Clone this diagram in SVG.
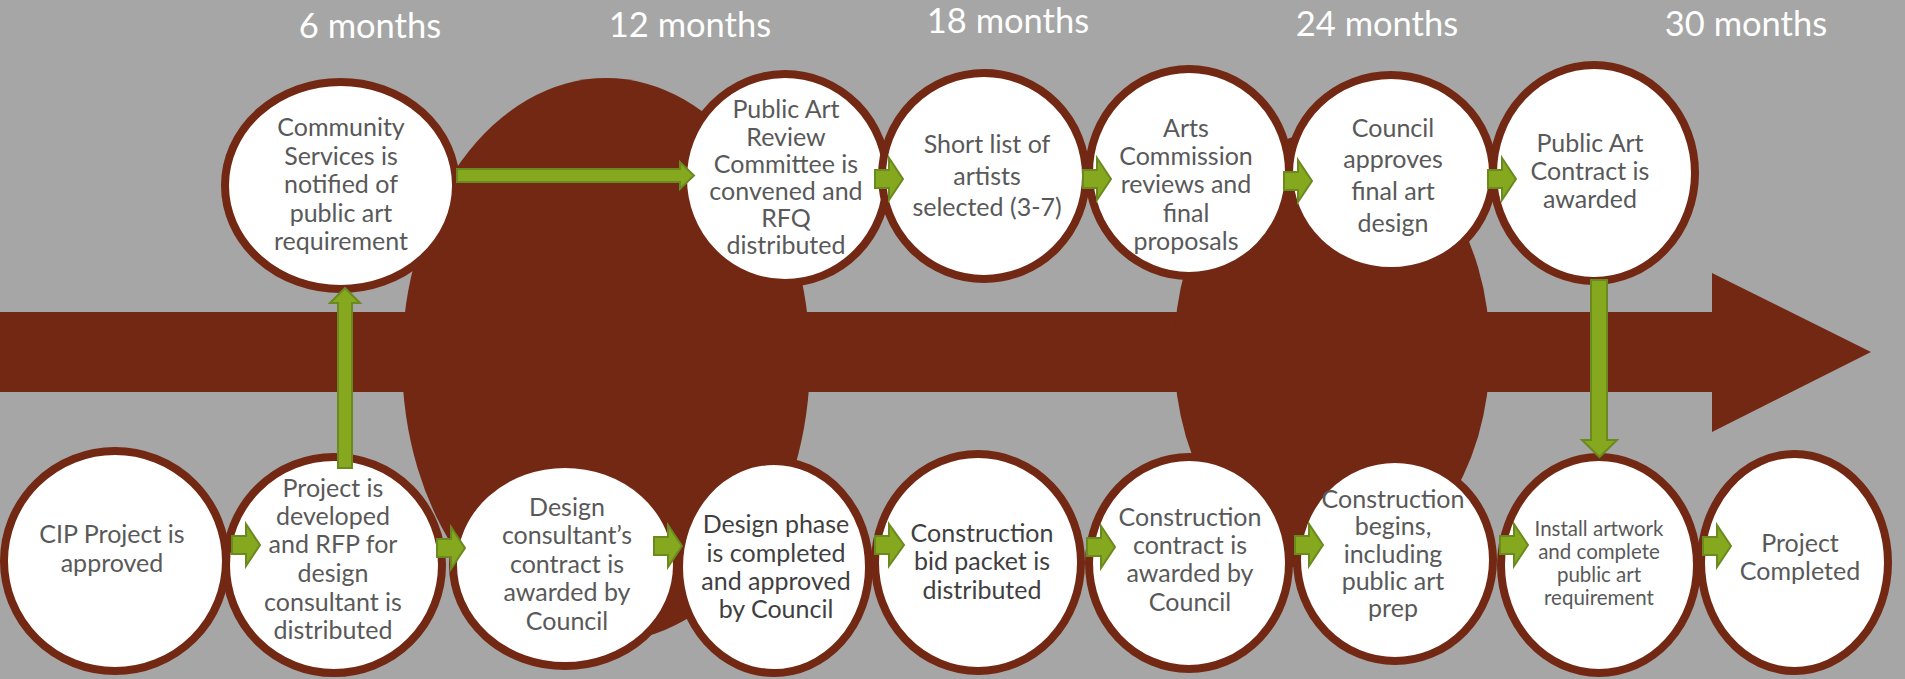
<svg xmlns="http://www.w3.org/2000/svg" width="1905" height="679" viewBox="0 0 1905 679">
  <style>
    .bg { fill: #A6A6A6; }
    .brown { fill: #722813; }
    .node { fill: #FFFFFF; stroke: #722813; stroke-width: 8; }
    .lbl { font-family: Lato, "Open Sans", "Liberation Sans", sans-serif; font-size: 25px; fill: #595959; text-anchor: middle; }
    .dark { fill: #3F3F3F; }
    .small { font-size: 20.5px; }
    .hdr { font-family: Lato, "Open Sans", "Liberation Sans", sans-serif; font-size: 34.5px; fill: #FFFFFF; text-anchor: middle; }
    .link { fill: #85A81F; stroke: #6A8A1F; stroke-width: 2; stroke-linejoin: miter; }
  </style>

  <rect class="bg" x="0" y="0" width="1905" height="679"/>

  <!-- timeline backbone: wide arrow and the two phase blobs -->
  <g id="timeline">
    <polygon class="brown" points="0,312 1712,312 1712,273 1871,352 1712,432 1712,392 0,392"/>
    <ellipse class="brown" cx="606" cy="360" rx="204" ry="282"/>
    <ellipse class="brown" cx="1332" cy="352" rx="158" ry="222"/>
  </g>

  <!-- month markers -->
  <g id="headers">
    <text class="hdr" x="370" y="38">6 months</text>
    <text class="hdr" x="690" y="37">12 months</text>
    <text class="hdr" x="1008" y="33">18 months</text>
    <text class="hdr" x="1377" y="36">24 months</text>
    <text class="hdr" x="1746" y="36">30 months</text>
  </g>

  <!-- upper track -->
  <g id="n-community">
    <ellipse class="node" cx="340.5" cy="185.5" rx="115.5" ry="103.5"/>
    <text class="lbl"><tspan x="341" y="136">Community</tspan><tspan x="341" y="165">Services is</tspan><tspan x="341" y="193">notified of</tspan><tspan x="341" y="222">public art</tspan><tspan x="341" y="250">requirement</tspan></text>
  </g>
  <g id="n-review">
    <ellipse class="node" cx="785" cy="178.5" rx="102" ry="104.5"/>
    <text class="lbl"><tspan x="786" y="118">Public Art</tspan><tspan x="786" y="146">Review</tspan><tspan x="786" y="173">Committee is</tspan><tspan x="786" y="200">convened and</tspan><tspan x="786" y="227">RFQ</tspan><tspan x="786" y="254">distributed</tspan></text>
  </g>
  <g id="n-shortlist">
    <ellipse class="node" cx="984" cy="176" rx="102" ry="103"/>
    <text class="lbl"><tspan x="987" y="153">Short list of</tspan><tspan x="987" y="185">artists</tspan><tspan x="987" y="216">selected (3-7)</tspan></text>
  </g>
  <g id="n-arts">
    <ellipse class="node" cx="1189" cy="172.5" rx="100" ry="103.5"/>
    <text class="lbl"><tspan x="1186" y="137">Arts</tspan><tspan x="1186" y="165">Commission</tspan><tspan x="1186" y="193">reviews and</tspan><tspan x="1186" y="222">final</tspan><tspan x="1186" y="250">proposals</tspan></text>
  </g>
  <g id="n-council">
    <ellipse class="node" cx="1391" cy="173" rx="102" ry="98"/>
    <text class="lbl"><tspan x="1393" y="137">Council</tspan><tspan x="1393" y="168">approves</tspan><tspan x="1393" y="200">final art</tspan><tspan x="1393" y="232">design</tspan></text>
  </g>
  <g id="n-artcontract">
    <ellipse class="node" cx="1594" cy="173" rx="101" ry="108"/>
    <text class="lbl"><tspan x="1590" y="152">Public Art</tspan><tspan x="1590" y="180">Contract is</tspan><tspan x="1590" y="208">awarded</tspan></text>
  </g>

  <!-- lower track -->
  <g id="n-cip">
    <ellipse class="node" cx="115" cy="561" rx="111" ry="110"/>
    <text class="lbl"><tspan x="112" y="543">CIP Project is</tspan><tspan x="112" y="572">approved</tspan></text>
  </g>
  <g id="n-develop">
    <ellipse class="node" cx="334" cy="565" rx="108" ry="108"/>
    <text class="lbl"><tspan x="333" y="497">Project is</tspan><tspan x="333" y="525">developed</tspan><tspan x="333" y="553">and RFP for</tspan><tspan x="333" y="582">design</tspan><tspan x="333" y="611">consultant is</tspan><tspan x="333" y="639">distributed</tspan></text>
  </g>
  <g id="n-consultant">
    <ellipse class="node" cx="565" cy="565" rx="112" ry="101"/>
    <text class="lbl"><tspan x="567" y="516">Design</tspan><tspan x="567" y="544">consultant’s</tspan><tspan x="567" y="573">contract is</tspan><tspan x="567" y="601">awarded by</tspan><tspan x="567" y="630">Council</tspan></text>
  </g>
  <g id="n-designphase">
    <ellipse class="node" cx="774" cy="567" rx="95" ry="106"/>
    <text class="lbl dark"><tspan x="776" y="533">Design phase</tspan><tspan x="776" y="562">is completed</tspan><tspan x="776" y="590">and approved</tspan><tspan x="776" y="618">by Council</tspan></text>
  </g>
  <g id="n-bid">
    <ellipse class="node" cx="978" cy="562.5" rx="103" ry="108.5"/>
    <text class="lbl dark"><tspan x="982" y="542">Construction</tspan><tspan x="982" y="570">bid packet is</tspan><tspan x="982" y="599">distributed</tspan></text>
  </g>
  <g id="n-constcontract">
    <ellipse class="node" cx="1189" cy="563" rx="100" ry="106"/>
    <text class="lbl"><tspan x="1190" y="526">Construction</tspan><tspan x="1190" y="554">contract is</tspan><tspan x="1190" y="582">awarded by</tspan><tspan x="1190" y="611">Council</tspan></text>
  </g>
  <g id="n-begins">
    <ellipse class="node" cx="1395" cy="560" rx="98" ry="101"/>
    <text class="lbl"><tspan x="1393" y="508">Construction</tspan><tspan x="1393" y="535">begins,</tspan><tspan x="1393" y="563">including</tspan><tspan x="1393" y="590">public art</tspan><tspan x="1393" y="617">prep</tspan></text>
  </g>
  <g id="n-install">
    <ellipse class="node" cx="1599" cy="565" rx="98" ry="108"/>
    <text class="lbl small"><tspan x="1599" y="536">Install artwork</tspan><tspan x="1599" y="559">and complete</tspan><tspan x="1599" y="582">public art</tspan><tspan x="1599" y="605">requirement</tspan></text>
  </g>
  <g id="n-completed">
    <ellipse class="node" cx="1794.5" cy="562.5" rx="93.5" ry="108.5"/>
    <text class="lbl"><tspan x="1800" y="552">Project</tspan><tspan x="1800" y="580">Completed</tspan></text>
  </g>

  <!-- flow arrows -->
  <g id="connectors">
    <polygon class="link" points="338,468 338,303 330,303 345,288 360,303 352,303 352,468"/>
    <polygon class="link" points="457,169 680,169 680,162 694,175.5 680,189 680,182 457,182"/>
    <polygon class="link" points="1591,280 1607,280 1607,440 1617,440 1599.5,457 1582,440 1591,440"/>

    <polygon class="link" points="875,170 889,170 889,158 903,179 889,200 889,188 875,188"/>
    <polygon class="link" points="1083,170 1097,170 1097,158 1111,179 1097,200 1097,188 1083,188"/>
    <polygon class="link" points="1284,172 1298,172 1298,160 1312,181 1298,202 1298,190 1284,190"/>
    <polygon class="link" points="1488,170 1502,170 1502,158 1516,179 1502,200 1502,188 1488,188"/>

    <polygon class="link" points="232,536 246,536 246,524 260,545 246,566 246,554 232,554"/>
    <polygon class="link" points="437,539 451,539 451,527 465,548 451,569 451,557 437,557"/>
    <polygon class="link" points="654,537 668,537 668,525 682,546 668,567 668,555 654,555"/>
    <polygon class="link" points="875,536 889,536 889,524 904,545 889,566 889,554 875,554"/>
    <polygon class="link" points="1087,538 1101,538 1101,526 1115,547 1101,568 1101,556 1087,556"/>
    <polygon class="link" points="1295,536 1309,536 1309,524 1323,545 1309,566 1309,554 1295,554"/>
    <polygon class="link" points="1500,536 1514,536 1514,524 1528,545 1514,566 1514,554 1500,554"/>
    <polygon class="link" points="1703,537 1717,537 1717,525 1731,546 1717,567 1717,555 1703,555"/>
  </g>
</svg>
